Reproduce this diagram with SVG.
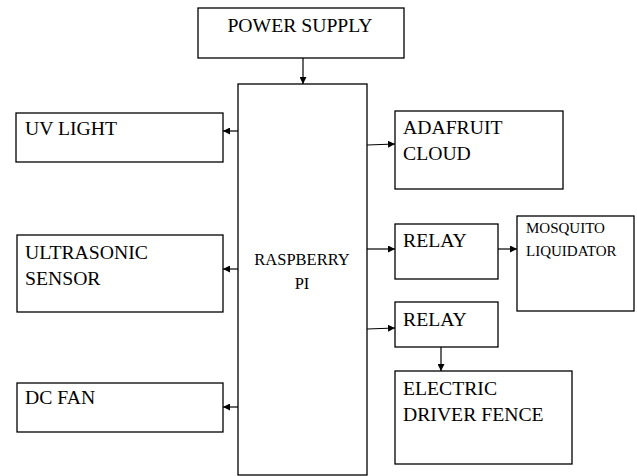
<svg xmlns="http://www.w3.org/2000/svg" width="637" height="476" viewBox="0 0 637 476" font-family="'Liberation Serif', 'DejaVu Serif', serif">
<style>
.box{fill:#fff;stroke:#000;stroke-width:1.3}
text{font-family:'Liberation Serif','DejaVu Serif',serif;font-size:19.7px;fill:#000}
text.s{font-size:16.5px}
text.xs{font-size:15px}
.c{stroke:#000;stroke-width:1.2;fill:none}
</style>
<defs>
<marker id="ah" viewBox="0 0 10 10" refX="10" refY="5" markerWidth="7" markerHeight="7" markerUnits="userSpaceOnUse" orient="auto">
<path d="M0,0 L10,5 L0,10 z" fill="#000"/>
</marker>
</defs>
<rect width="637" height="476" fill="#fff"/>
<g id="connectors">
<line class="c" x1="303" y1="58" x2="303" y2="84" marker-end="url(#ah)"/>
<line class="c" x1="238" y1="131" x2="223" y2="131" marker-end="url(#ah)"/>
<line class="c" x1="238" y1="269" x2="223" y2="269" marker-end="url(#ah)"/>
<line class="c" x1="238" y1="407" x2="223" y2="407" marker-end="url(#ah)"/>
<line class="c" x1="367" y1="145" x2="395" y2="144" marker-end="url(#ah)"/>
<line class="c" x1="367" y1="249" x2="395" y2="249" marker-end="url(#ah)"/>
<line class="c" x1="498" y1="249" x2="517" y2="249" marker-end="url(#ah)"/>
<line class="c" x1="367" y1="329" x2="395" y2="328" marker-end="url(#ah)"/>
<line class="c" x1="441" y1="347" x2="441" y2="371" marker-end="url(#ah)"/>
</g>
<g id="power-supply">
<rect class="box" x="198" y="8" width="206" height="50"/>
<text x="300" y="32" text-anchor="middle">POWER SUPPLY</text>
</g>
<g id="raspberry-pi">
<rect class="box" x="238" y="84" width="129" height="391"/>
<text class="s" x="302" y="265" text-anchor="middle">RASPBERRY</text>
<text class="s" x="302" y="289" text-anchor="middle">PI</text>
</g>
<g id="uv-light">
<rect class="box" x="16" y="113" width="207" height="49"/>
<text x="25" y="135">UV LIGHT</text>
</g>
<g id="ultrasonic-sensor">
<rect class="box" x="17" y="235" width="206" height="77"/>
<text x="25" y="259">ULTRASONIC</text>
<text x="25" y="285">SENSOR</text>
</g>
<g id="dc-fan">
<rect class="box" x="17" y="383" width="206" height="49"/>
<text x="25" y="404">DC FAN</text>
</g>
<g id="adafruit-cloud">
<rect class="box" x="395" y="111" width="168" height="78"/>
<text x="403" y="134">ADAFRUIT</text>
<text x="403" y="160">CLOUD</text>
</g>
<g id="relay-1">
<rect class="box" x="395" y="224" width="103" height="55"/>
<text x="403" y="247">RELAY</text>
</g>
<g id="mosquito-liquidator">
<rect class="box" x="517" y="216" width="117" height="95"/>
<text class="xs" x="526" y="233">MOSQUITO</text>
<text class="xs" x="526" y="256">LIQUIDATOR</text>
</g>
<g id="relay-2">
<rect class="box" x="395" y="302" width="103" height="45"/>
<text x="403" y="326">RELAY</text>
</g>
<g id="electric-driver-fence">
<rect class="box" x="395" y="371" width="177" height="93"/>
<text x="403" y="395">ELECTRIC</text>
<text x="403" y="421">DRIVER FENCE</text>
</g>
</svg>
